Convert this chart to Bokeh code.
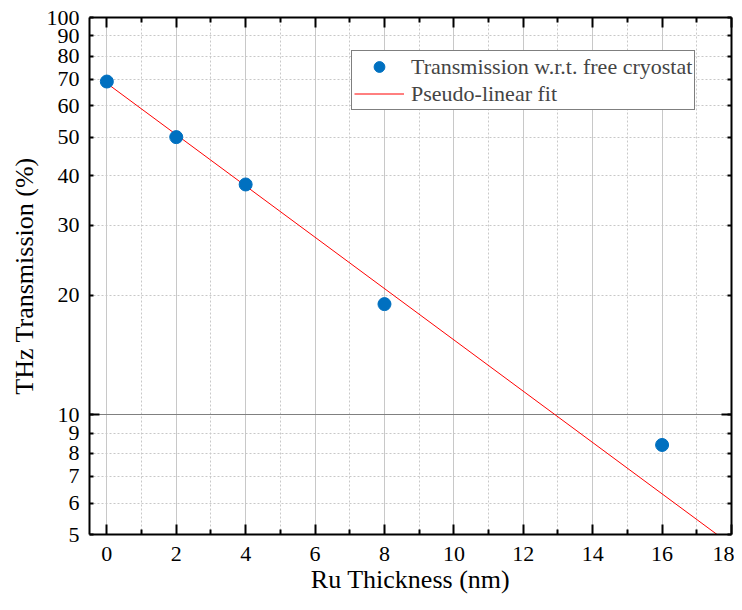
from bokeh.plotting import figure
from bokeh.models import (Range1d, LogAxis, LinearAxis, FixedTicker, Grid,
                          Legend, LegendItem, ColumnDataSource, CustomJSTickFormatter)
from bokeh.embed import file_html
from bokeh.resources import INLINE

# ---- data ----
thickness = [0, 2, 4, 8, 16]
transmission = [69.0, 50.0, 38.0, 19.0, 8.4]
fit_x = [0, 18]
fit_y = [68.3, 4.7]

x_major = [0, 2, 4, 6, 8, 10, 12, 14, 16, 18]
x_minor = [1, 3, 5, 7, 9, 11, 13, 15, 17]
y_ticks = [5, 6, 7, 8, 9, 10, 20, 30, 40, 50, 60, 70, 80, 90, 100]
y_dotted = [6, 7, 8, 9, 20, 30, 40, 50, 60, 70, 80, 90]

FONT = "'Liberation Serif', serif"

p = figure(width=734, height=600, x_range=Range1d(-0.5, 18), y_range=Range1d(5, 100),
           y_axis_type="log", output_backend="svg", toolbar_location=None,
           x_axis_location=None, y_axis_location=None,
           min_border_left=89, min_border_right=3, min_border_top=17, min_border_bottom=66)
p.outline_line_color = None
p.xgrid.visible = False
p.ygrid.visible = False

# grids
xt = FixedTicker(ticks=x_major, minor_ticks=x_minor)
p.add_layout(Grid(dimension=0, ticker=xt, grid_line_color="#c8c8c8", grid_line_width=1,
                  minor_grid_line_color="#c8c8c8", minor_grid_line_dash="2 2",
                  minor_grid_line_width=1))
yt_grid = FixedTicker(ticks=[10], minor_ticks=y_dotted)
p.add_layout(Grid(dimension=1, ticker=yt_grid, grid_line_color="#808080", grid_line_width=1.2,
                  minor_grid_line_color="#c8c8c8", minor_grid_line_dash="2 2",
                  minor_grid_line_width=1))

blank = CustomJSTickFormatter(code="return '';")

def style(ax, labels=True):
    ax.axis_line_width = 2
    ax.axis_line_color = "black"
    ax.major_tick_line_width = 2
    ax.minor_tick_line_width = 2
    ax.major_tick_out = 0
    ax.minor_tick_out = 0
    ax.major_label_text_font = FONT
    ax.major_label_text_font_size = "22px"
    ax.major_label_text_color = "black"
    ax.axis_label_text_font = FONT
    ax.axis_label_text_font_size = "26px"
    ax.axis_label_text_font_style = "normal"
    ax.axis_label_text_color = "black"
    if not labels:
        ax.formatter = blank
        ax.major_label_standoff = 0

# x axes
for loc, lab in (("below", True), ("above", False)):
    ax = LinearAxis(ticker=FixedTicker(ticks=x_major, minor_ticks=x_minor))
    style(ax, lab)
    ax.major_tick_in = 10
    ax.minor_tick_in = 5
    if lab:
        ax.axis_label = "Ru Thickness (nm)"
        ax.major_label_standoff = 12
        ax.axis_label_standoff = 1
    p.add_layout(ax, loc)

# y axes
for loc, lab in (("left", True), ("right", False)):
    ax = LogAxis(ticker=FixedTicker(ticks=y_ticks, minor_ticks=[10]))
    style(ax, lab)
    ax.major_tick_in = 4
    ax.minor_tick_in = 10
    if lab:
        ax.axis_label = "THz Transmission (%)"
        ax.major_label_standoff = 10
        ax.axis_label_standoff = 5
    p.add_layout(ax, loc)

src = ColumnDataSource(dict(x=thickness, y=transmission))
fit = ColumnDataSource(dict(x=fit_x, y=fit_y))
r_fit = p.line("x", "y", source=fit, line_color="#ff0000", line_width=1)
r_pts = p.scatter("x", "y", source=src, size=13, fill_color="#0070c0", line_color="#0070c0")

legend = Legend(items=[LegendItem(label="Transmission w.r.t. free cryostat", renderers=[r_pts]),
                       LegendItem(label="Pseudo-linear fit", renderers=[r_fit])],
                location=(262, 424), orientation="vertical",
                label_text_font=FONT, label_text_font_size="22px",
                border_line_color="black", border_line_width=1,
                padding=2, spacing=0, margin=0, label_height=27, glyph_height=27,
                glyph_width=50, label_standoff=7, background_fill_alpha=1)
p.add_layout(legend, "center")

open("out.html", "w").write(file_html(p, INLINE))
